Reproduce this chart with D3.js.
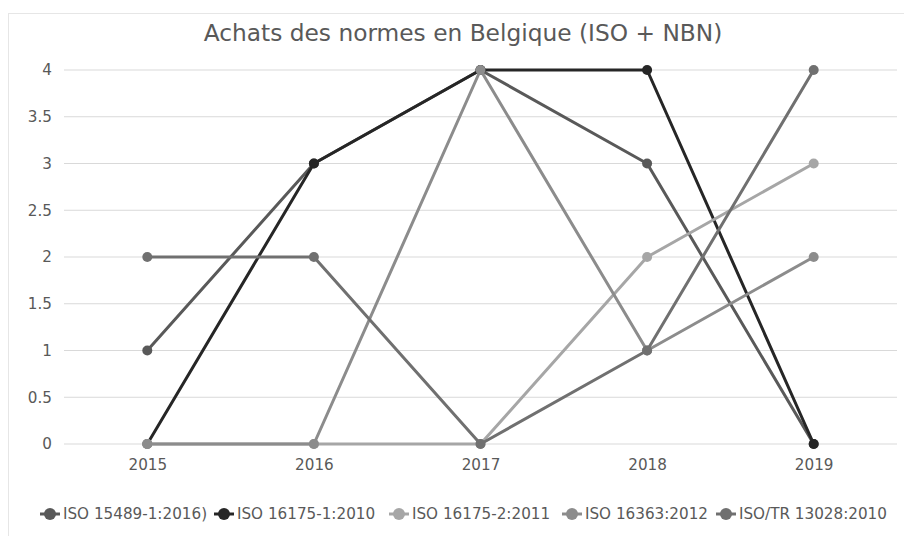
<!DOCTYPE html>
<html>
<head>
<meta charset="utf-8">
<script src="https://cdn.jsdelivr.net/npm/d3@7"></script>
<style>
  body { margin: 0; background: #fff; }
  text { font-family: "DejaVu Sans", sans-serif; fill: #595959; }
</style>
</head>
<body>
<svg id="chart" width="904" height="536"></svg>
<script>
const years = ["2015", "2016", "2017", "2018", "2019"];
const seriesNames = [
  "ISO 15489-1:2016)",
  "ISO 16175-1:2010",
  "ISO 16175-2:2011",
  "ISO 16363:2012",
  "ISO/TR 13028:2010"
];
const iso15489 = [1, 3, 4, 3, 0];
const iso16175a = [0, 3, 4, 4, 0];
const iso16175b = [0, 0, 0, 2, 3];
const iso16363 = [0, 0, 4, 1, 2];
const isoTr13028 = [2, 2, 0, 1, 4];
const yTicks = [0, 0.5, 1, 1.5, 2, 2.5, 3, 3.5, 4];
const colors = ["#595959", "#262626", "#a6a6a6", "#8c8c8c", "#707070"];

const seriesValues = [iso15489, iso16175a, iso16175b, iso16363, isoTr13028];
const series = seriesNames.map((name, i) => ({
  name: name,
  color: colors[i],
  values: seriesValues[i].map((v, j) => ({ year: years[j], value: v }))
}));

const svg = d3.select("#chart");
const width = +svg.attr("width");
const height = +svg.attr("height");

const margin = { top: 70, right: 7, bottom: 92, left: 64 };
const innerWidth = width - margin.left - margin.right;
const innerHeight = height - margin.top - margin.bottom;

// outer chart border
svg.append("rect")
  .attr("x", 8.5).attr("y", 13.5)
  .attr("width", width - 8).attr("height", height - 13)
  .attr("fill", "none")
  .attr("stroke", "#e6e6e6");

svg.append("text")
  .attr("x", 463)
  .attr("y", 41)
  .attr("text-anchor", "middle")
  .attr("font-size", "23.3px")
  .text("Achats des normes en Belgique (ISO + NBN)");

const g = svg.append("g")
  .attr("transform", `translate(${margin.left},${margin.top})`);

const xScale = d3.scalePoint().domain(years).range([0, innerWidth]).padding(0.5);
const yScale = d3.scaleLinear().domain([0, 4]).range([innerHeight, 0]);

// gridlines
g.append("g")
  .selectAll("line")
  .data(yTicks)
  .join("line")
  .attr("x1", 0)
  .attr("x2", innerWidth)
  .attr("y1", d => yScale(d))
  .attr("y2", d => yScale(d))
  .attr("stroke", "#d9d9d9")
  .attr("stroke-width", 1);

const axisY = d3.axisLeft(yScale).tickValues(yTicks).tickSize(0).tickPadding(12)
  .tickFormat(d => String(d));
const axisYGroup = g.append("g").call(axisY);
axisYGroup.select(".domain").remove();
axisYGroup.selectAll("text")
  .attr("font-size", "15.2px")
  .attr("font-family", "DejaVu Sans")
  .attr("fill", "#595959");

const axisX = d3.axisBottom(xScale).tickSize(0).tickPadding(15);
const axisXGroup = g.append("g")
  .attr("transform", `translate(0,${innerHeight})`)
  .call(axisX);
axisXGroup.select(".domain").remove();
axisXGroup.selectAll("text")
  .attr("font-size", "15.2px")
  .attr("font-family", "DejaVu Sans")
  .attr("fill", "#595959");

const lineGenerator = d3.line()
  .x(d => xScale(d.year))
  .y(d => yScale(d.value));

const seriesGroups = g.selectAll(".series")
  .data(series)
  .join("g")
  .attr("class", "series");

seriesGroups.append("path")
  .attr("d", d => lineGenerator(d.values))
  .attr("fill", "none")
  .attr("stroke", d => d.color)
  .attr("stroke-width", 3)
  .attr("stroke-linejoin", "round");

seriesGroups.selectAll("circle")
  .data(d => d.values.map(v => ({ ...v, color: d.color })))
  .join("circle")
  .attr("cx", d => xScale(d.year))
  .attr("cy", d => yScale(d.value))
  .attr("r", 5)
  .attr("fill", d => d.color);

// legend
const legendX = [40, 214, 389, 562, 716];
const legend = svg.append("g").attr("transform", "translate(0,514)");
const items = legend.selectAll("g")
  .data(series)
  .join("g")
  .attr("transform", (d, i) => `translate(${legendX[i]},0)`);
items.append("line")
  .attr("x1", 0).attr("x2", 20)
  .attr("stroke", d => d.color)
  .attr("stroke-width", 3);
items.append("circle")
  .attr("cx", 10).attr("r", 6)
  .attr("fill", d => d.color);
items.append("text")
  .attr("x", 23)
  .attr("dy", "0.35em")
  .attr("font-size", "15.2px")
  .text(d => d.name);
</script>
</body>
</html>
